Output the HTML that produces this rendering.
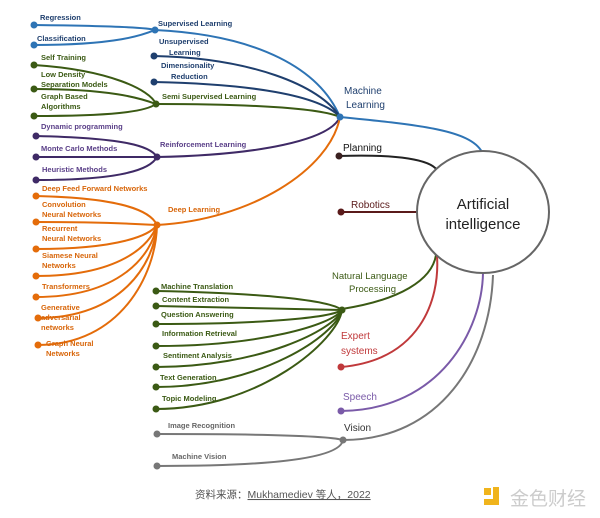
<!DOCTYPE html>
<html><head><meta charset="utf-8"><style>
body{margin:0;background:#fff;}
svg{display:block;font-family:"Liberation Sans","Noto Sans CJK SC",sans-serif;}
.s{font-size:7.5px;font-weight:bold;}
.m{font-size:10px;}
</style></head><body>
<svg width="600" height="518" viewBox="0 0 600 518" xmlns="http://www.w3.org/2000/svg" fill="none" stroke-width="2">
<!-- main branches to circle -->
<path d="M340 117 C420 125 470 130 482 152" stroke="#2e74b5"/>
<path d="M339 156 C400 154 430 160 437 170" stroke="#222"/>
<path d="M341 212 L417 212" stroke="#5a1a1a"/>
<path d="M342 309 C400 300 432 280 436 255" stroke="#3b5a14"/>
<path d="M341 367 C420 360 440 300 437 256" stroke="#c0393b"/>
<path d="M341 411 C440 410 482 330 483 273" stroke="#7a5aa8"/>
<path d="M343 440 C440 440 490 360 493 275" stroke="#777"/>
<!-- ML sub -->
<path d="M34 25 C120 26 150 28 155 30" stroke="#2e74b5"/>
<path d="M34 45 C120 45 145 34 155 30" stroke="#2e74b5"/>
<path d="M155 30 C260 35 320 70 340 117" stroke="#2e74b5"/>
<path d="M154 56 C250 58 320 85 340 117" stroke="#1f3f6e"/>
<path d="M154 82 C250 84 320 95 340 117" stroke="#1f3f6e"/>
<path d="M156 104 C250 104 320 108 340 117" stroke="#3b5a14"/>
<path d="M157 157 C260 155 330 140 340 117" stroke="#3f2a66"/>
<path d="M157 225 C250 220 330 170 340 117" stroke="#e46c0a"/>
<!-- semi -->
<path d="M34 65 C110 70 150 90 156 104" stroke="#3b5a14"/>
<path d="M34 89 C110 89 140 98 156 104" stroke="#3b5a14"/>
<path d="M34 116 C110 116 145 112 156 104" stroke="#3b5a14"/>
<!-- reinforcement -->
<path d="M36 136 C120 138 150 145 157 157" stroke="#3f2a66"/>
<path d="M36 157 L157 157" stroke="#3f2a66"/>
<path d="M36 180 C120 180 150 170 157 157" stroke="#3f2a66"/>
<!-- deep learning -->
<g stroke="#e46c0a">
<path d="M36 196 C120 198 150 210 157 225"/>
<path d="M36 222 C120 222 150 225 157 225"/>
<path d="M36 249 C120 249 150 235 157 225"/>
<path d="M36 276 C120 276 150 245 157 225"/>
<path d="M36 297 C120 297 152 255 157 225"/>
<path d="M38 318 C120 318 154 265 157 225"/>
<path d="M38 345 C120 345 156 275 157 225"/>
</g>
<!-- NLP -->
<g stroke="#3b5a14">
<path d="M156 291 C260 293 330 300 342 310"/>
<path d="M156 306 C260 308 330 310 342 310"/>
<path d="M156 324 C260 324 330 318 342 310"/>
<path d="M156 346 C260 346 332 325 342 310"/>
<path d="M156 367 C260 367 334 330 342 310"/>
<path d="M156 387 C260 387 336 335 342 310"/>
<path d="M156 409 C260 409 338 340 342 310"/>
</g>
<!-- vision -->
<path d="M157 434 C260 434 330 436 343 440" stroke="#777"/>
<path d="M157 466 C260 466 340 460 343 440" stroke="#777"/>
<!-- dots -->
<g stroke="none">
<g fill="#2e74b5"><circle cx="34" cy="25" r="3.5"/><circle cx="34" cy="45" r="3.5"/><circle cx="155" cy="30" r="3.5"/><circle cx="340" cy="117" r="3.5"/></g>
<g fill="#1f3f6e"><circle cx="154" cy="56" r="3.5"/><circle cx="154" cy="82" r="3.5"/></g>
<g fill="#3b5a14"><circle cx="34" cy="65" r="3.5"/><circle cx="34" cy="89" r="3.5"/><circle cx="34" cy="116" r="3.5"/><circle cx="156" cy="104" r="3.5"/>
<circle cx="156" cy="291" r="3.5"/><circle cx="156" cy="306" r="3.5"/><circle cx="156" cy="324" r="3.5"/><circle cx="156" cy="346" r="3.5"/><circle cx="156" cy="367" r="3.5"/><circle cx="156" cy="387" r="3.5"/><circle cx="156" cy="409" r="3.5"/><circle cx="342" cy="310" r="3.5"/></g>
<g fill="#3f2a66"><circle cx="36" cy="136" r="3.5"/><circle cx="36" cy="157" r="3.5"/><circle cx="36" cy="180" r="3.5"/><circle cx="157" cy="157" r="3.5"/></g>
<g fill="#e46c0a"><circle cx="36" cy="196" r="3.5"/><circle cx="36" cy="222" r="3.5"/><circle cx="36" cy="249" r="3.5"/><circle cx="36" cy="276" r="3.5"/><circle cx="36" cy="297" r="3.5"/><circle cx="38" cy="318" r="3.5"/><circle cx="38" cy="345" r="3.5"/><circle cx="157" cy="225" r="3.5"/></g>
<circle cx="339" cy="156" r="3.5" fill="#3a2020"/>
<circle cx="341" cy="212" r="3.5" fill="#5a1a1a"/>
<circle cx="341" cy="367" r="3.5" fill="#c0393b"/>
<circle cx="341" cy="411" r="3.5" fill="#7a5aa8"/>
<g fill="#777"><circle cx="157" cy="434" r="3.5"/><circle cx="157" cy="466" r="3.5"/><circle cx="343" cy="440" r="3.5"/></g>
</g>
<ellipse cx="483" cy="212" rx="66" ry="61" fill="#fff" stroke="#666" stroke-width="2"/>
<g stroke="none">
<text x="483" y="209" font-size="15" fill="#222" text-anchor="middle">Artificial</text>
<text x="483" y="229" font-size="15" fill="#222" text-anchor="middle">intelligence</text>
<g class="s" fill="#1f3f6e">
<text x="40" y="20">Regression</text><text x="37" y="41">Classification</text>
<text x="158" y="26">Supervised Learning</text>
<text x="159" y="44">Unsupervised</text><text x="169" y="55">Learning</text>
<text x="161" y="68">Dimensionality</text><text x="171" y="79">Reduction</text>
</g>
<g class="s" fill="#3b5a14">
<text x="41" y="60">Self Training</text><text x="41" y="77">Low Density</text><text x="41" y="87">Separation Models</text>
<text x="41" y="99">Graph Based</text><text x="41" y="109">Algorithms</text>
<text x="162" y="99">Semi Supervised Learning</text>
<text x="161" y="289">Machine Translation</text><text x="162" y="302">Content Extraction</text>
<text x="161" y="317">Question Answering</text><text x="162" y="336">Information Retrieval</text>
<text x="163" y="358">Sentiment Analysis</text><text x="160" y="380">Text Generation</text>
<text x="162" y="401">Topic Modeling</text>
</g>
<g class="s" fill="#5a3f88">
<text x="41" y="129">Dynamic programming</text><text x="41" y="151">Monte Carlo Methods</text>
<text x="42" y="172">Heuristic Methods</text><text x="160" y="147">Reinforcement Learning</text>
</g>
<g class="s" fill="#d8660a">
<text x="42" y="191">Deep Feed Forward Networks</text>
<text x="42" y="207">Convolution</text><text x="42" y="217">Neural Networks</text>
<text x="42" y="231">Recurrent</text><text x="42" y="241">Neural Networks</text>
<text x="42" y="258">Siamese Neural</text><text x="42" y="268">Networks</text>
<text x="42" y="289">Transformers</text>
<text x="41" y="310">Generative</text><text x="41" y="320">adversarial</text><text x="41" y="330">networks</text>
<text x="46" y="346">Graph Neural</text><text x="46" y="356">Networks</text>
<text x="168" y="212">Deep Learning</text>
</g>
<g class="m">
<text x="344" y="94" fill="#1f3f6e">Machine</text><text x="346" y="108" fill="#1f3f6e">Learning</text>
<text x="343" y="151" fill="#111">Planning</text>
<text x="351" y="208" fill="#5a1a1a">Robotics</text>
<text x="332" y="279" fill="#3b5a14" font-size="9.5">Natural Language</text><text x="349" y="292" fill="#3b5a14" font-size="9.5">Processing</text>
<text x="341" y="339" fill="#c0393b">Expert</text><text x="341" y="354" fill="#c0393b">systems</text>
<text x="343" y="400" fill="#7a5aa8">Speech</text>
<text x="344" y="431" fill="#333">Vision</text>
</g>
<text x="168" y="428" class="s" fill="#666">Image Recognition</text>
<text x="172" y="459" class="s" fill="#666">Machine Vision</text>
<text x="195" y="498" font-size="10.5" fill="#555">资料来源：<tspan text-decoration="underline">Mukhamediev 等人，2022</tspan></text>
<rect x="484" y="488" width="7" height="7" fill="#f0b41c"/>
<path d="M493 487 h6 v18 h-15 v-6 h9 z" fill="#f0b41c"/>
<text x="510" y="505" font-size="19" fill="#ccc">金色财经</text>
</g>
</svg>
</body></html>
